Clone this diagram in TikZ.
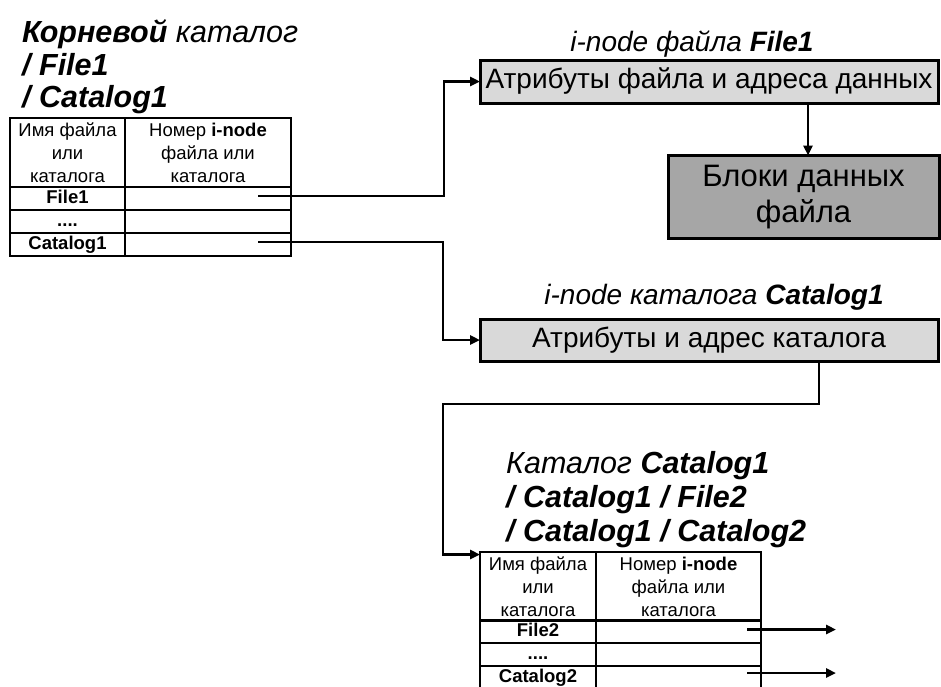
\documentclass[tikz,border=0pt]{standalone}
\usepackage{fontspec}
\setmainfont{Liberation Sans}
\usetikzlibrary{arrows.meta,calc}
\definecolor{lightbox}{HTML}{D9D9D9}
\definecolor{darkbox}{HTML}{A6A6A6}
\tikzset{
  conn/.style={line width=2.8pt,-{Triangle[length=10pt,width=9pt]}},
  cellbase/.style={draw,line width=1.2pt,inner sep=0pt,outer sep=0pt,anchor=north west,
    font=\fontsize{18.5}{23}\selectfont},
  cell/.style={cellbase,minimum height=23pt,text height=13pt,text depth=3.5pt},
  hcell/.style={cellbase,minimum height=69pt,align=center},
  box/.style={draw,line width=3pt,inner sep=0pt,outer sep=0pt,anchor=north west,
    align=center,font=\fontsize{28}{36}\selectfont},
  bigtitle/.style={anchor=base west,inner sep=0pt,font=\fontsize{30.5}{34}\selectfont\itshape},
  midtitle/.style={anchor=base,inner sep=0pt,font=\fontsize{28}{32}\selectfont\itshape}
}
\begin{document}
\begin{tikzpicture}[x=1pt,y=-1pt]
\useasboundingbox (0,0) rectangle (941,686);
% root catalogue title
\node[bigtitle] (rt1) at (22,42) {\textbf{Корневой} каталог};
\node[bigtitle] (rt2) at (22,75) {\textbf{/ File1}};
\node[bigtitle] (rt3) at (22,107) {\textbf{/ Catalog1}};
% root table
\node[hcell,minimum width=115pt] (a0) at (10,118) {Имя файла\\или\\каталога};
\node[hcell,minimum width=166pt] (b0) at (125,118) {Номер \textbf{i-node}\\файла или\\каталога};
\node[cell,minimum width=115pt] (a1) at (10,187) {\textbf{File1}};
\node[cell,minimum width=166pt] (b1) at (125,187) {};
\node[cell,minimum width=115pt] (a2) at (10,210) {\textbf{....}};
\node[cell,minimum width=166pt] (b2) at (125,210) {};
\node[cell,minimum width=115pt] (a3) at (10,233) {\textbf{Catalog1}};
\node[cell,minimum width=166pt] (b3) at (125,233) {};
% i-node of File1
\node[midtitle] (it1) at (692,51) {i-node файла \textbf{File1}};
\node[box,fill=lightbox,minimum width=458pt,minimum height=43pt] (attr1) at (480,60) {Атрибуты файла и адреса данных};
\node[box,fill=darkbox,minimum width=271pt,minimum height=83pt,font=\fontsize{31}{36}\selectfont] (blocks) at (668,155.5) {Блоки данных\\файла};
% i-node of Catalog1
\node[midtitle] (it2) at (714,304) {i-node каталога \textbf{Catalog1}};
\node[box,fill=lightbox,minimum width=458pt,minimum height=42pt] (attr3) at (480,319) {Атрибуты и адрес каталога};
% Catalog1 title
\node[bigtitle] (ct1) at (506,473) {Каталог \textbf{Catalog1}};
\node[bigtitle] (ct2) at (506,507) {\textbf{/ Catalog1 / File2}};
\node[bigtitle] (ct3) at (506,541) {\textbf{/ Catalog1 / Catalog2}};
% Catalog1 table
\node[hcell,minimum width=116pt] (c0) at (480,552) {Имя файла\\или\\каталога};
\node[hcell,minimum width=165pt] (d0) at (596,552) {Номер \textbf{i-node}\\файла или\\каталога};
\node[cell,minimum width=116pt] (c1) at (480,620) {\textbf{File2}};
\node[cell,minimum width=165pt] (d1) at (596,620) {};
\node[cell,minimum width=116pt] (c2) at (480,643) {\textbf{....}};
\node[cell,minimum width=165pt] (d2) at (596,643) {};
\node[cell,minimum width=116pt] (c3) at (480,666) {\textbf{Catalog2}};
\node[cell,minimum width=165pt] (d3) at (596,666) {};
% connector points
\coordinate (p1) at (258,196);
\coordinate (p2) at (258,242);
\coordinate (j1) at (444,0);
\coordinate (j2) at (443,0);
\coordinate (v1) at (808,0);
\coordinate (k) at (819,404);
\coordinate (t2in) at (480,554.5);
\coordinate (q1s) at (747,629.5);
\coordinate (q1e) at (836,629.5);
\coordinate (q2s) at (747,673);
\coordinate (q2e) at (836,673);
% connectors
\draw[conn] (p1) -| (j1 |- attr1.west) -- (attr1.west);
\draw[conn] (p2) -| (j2 |- attr3.west) -- (attr3.west);
\draw[conn] (v1 |- attr1.south) -- (v1 |- blocks.north);
\draw[conn] (k |- attr3.south) -- (k) -- (k -| j2) |- (t2in);
\draw[conn] (q1s) -- (q1e);
\draw[conn] (q2s) -- (q2e);
\end{tikzpicture}
\end{document}
